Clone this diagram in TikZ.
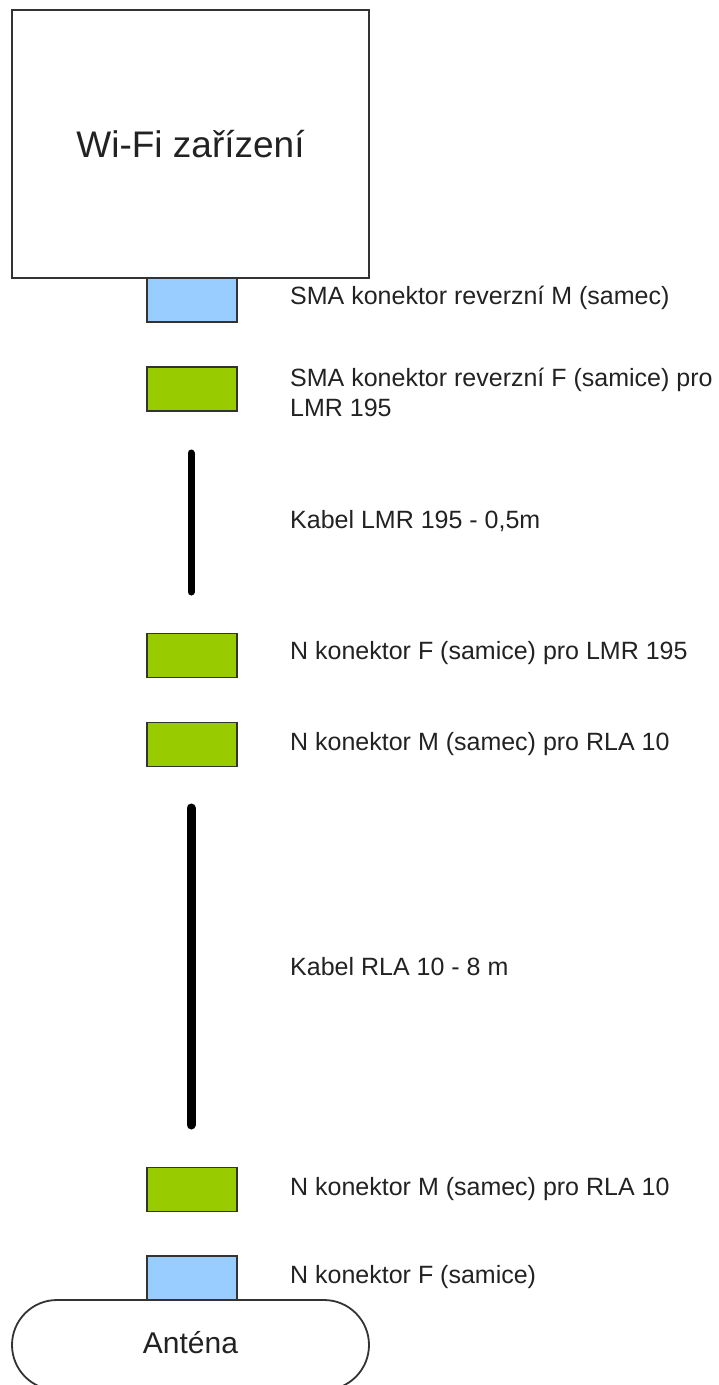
\documentclass[tikz,border=0pt]{standalone}
\usepackage{fontspec}
\setmainfont{Liberation Sans}
\definecolor{plugblue}{HTML}{99CCFF}
\definecolor{pluggreen}{HTML}{99CC00}
\definecolor{ink}{HTML}{222222}
\definecolor{rim}{HTML}{333333}
\begin{document}
\begin{tikzpicture}[x=1pt,y=-1pt,
  outline/.style={draw=rim, line width=1.8pt},
  device/.style={outline, fill=white, minimum width=357pt, minimum height=268pt, inner sep=0pt,
    text=ink, font=\fontsize{37}{44}\selectfont},
  plug/.style={outline, minimum width=90pt, minimum height=44pt, inner sep=0pt},
  maleplug/.style={plug, fill=plugblue},
  femaleplug/.style={plug, fill=pluggreen},
  cable/.style={draw=black, line cap=round},
  lbl/.style={anchor=west, inner sep=0pt, text=ink, align=left,
    font=\fontsize{25}{30}\selectfont},
  aerial/.style={outline, fill=white, rounded corners=45pt, minimum width=357pt,
    minimum height=90pt, inner sep=0pt, text=ink, font=\fontsize{30}{36}\selectfont}]
  \useasboundingbox (0,0) rectangle (719,1385);

  % radio device
  \node[device] (dev) at (190.5,144) {Wi-Fi zařízení};

  % connector chain from the device down to the aerial
  \node[maleplug]   (c1) at (192,300) {};
  \node[femaleplug] (c2) at (192,389) {};
  \coordinate (k1a) at (191,453);
  \coordinate (k1b) at (191,592);
  \node[femaleplug] (c3) at (192,655.5) {};
  \node[femaleplug] (c4) at (192,744.5) {};
  \coordinate (k2a) at (191,808);
  \coordinate (k2b) at (191,1125);
  \node[femaleplug] (c5) at (192,1189.5) {};
  \node[maleplug]   (c6) at (192,1278) {};

  % aerial, cut off at the lower edge
  \begin{scope}
    \clip (0,0) rectangle (719,1385);
    \node[aerial] (ant) at (190.5,1345) {};
  \end{scope}
  \node[text=ink, font=\fontsize{30}{36}\selectfont] (antlbl) at (190.5,1343) {Anténa};

  % cables
  \draw[cable, line width=7pt] (k1a) -- (k1b);
  \draw[cable, line width=9pt] (k2a) -- (k2b);

  % descriptions
  \node[lbl] (t1) at (290,298) {SMA konektor reverzní M (samec)};
  \node[lbl] (t2) at (290,392) {SMA konektor reverzní F (samice) pro\\LMR 195};
  \node[lbl] (t3) at (290,521) {Kabel LMR 195 - 0,5m};
  \node[lbl] (t4) at (290,653) {N konektor F (samice) pro LMR 195};
  \node[lbl] (t5) at (290,744) {N konektor M (samec) pro RLA 10};
  \node[lbl] (t6) at (290,967) {Kabel RLA 10 - 8 m};
  \node[lbl] (t7) at (290,1189) {N konektor M (samec) pro RLA 10};
  \node[lbl] (t8) at (290,1277) {N konektor F (samice)};
\end{tikzpicture}
\end{document}
